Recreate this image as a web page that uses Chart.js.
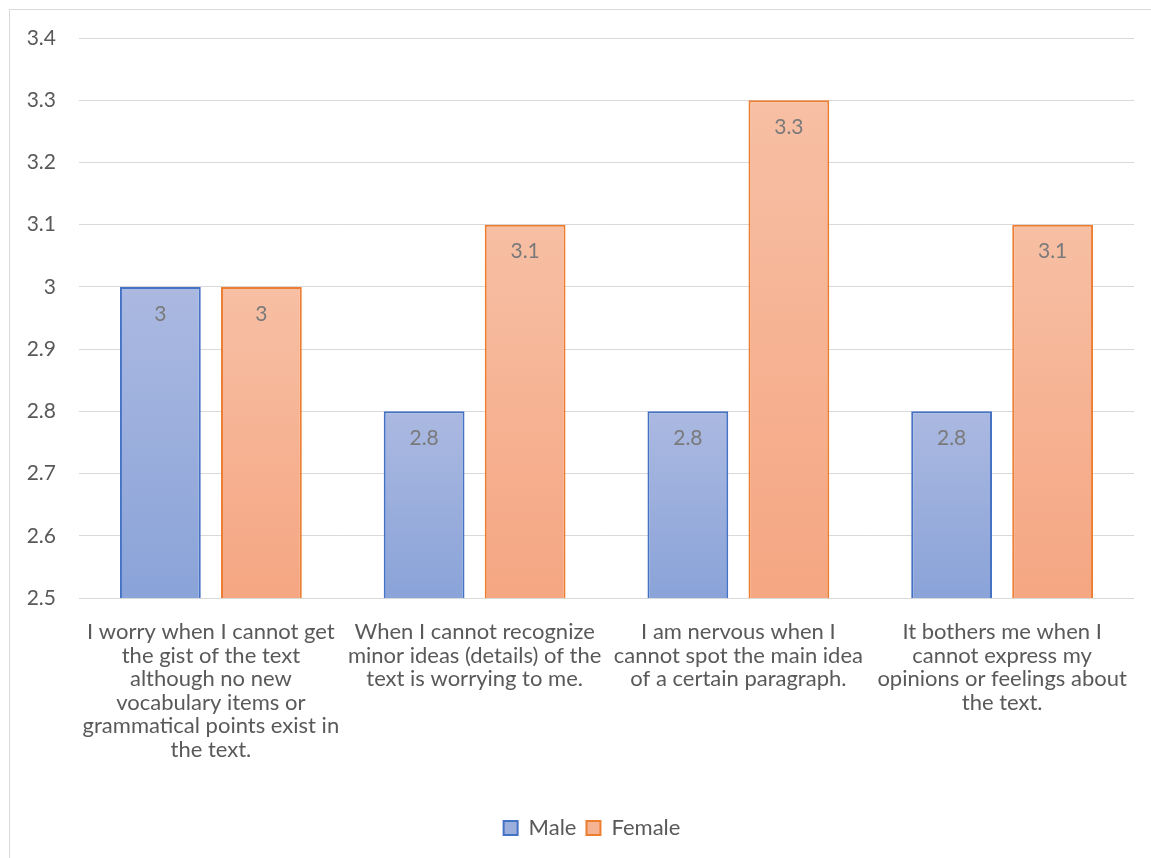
<!DOCTYPE html>
<html>
<head>
<meta charset="utf-8">
<script src="https://cdn.jsdelivr.net/npm/chart.js@4.4.1/dist/chart.umd.min.js"></script>
<style>
  html, body { margin: 0; padding: 0; background: #fff; overflow: hidden; }
  #frame { position: absolute; left: 9px; top: 9px; width: 1200px; height: 900px;
           border-left: 1px solid #d9d9d9; border-top: 1px solid #d9d9d9; }
  #wrap { position: absolute; left: 0; top: 0; width: 1151px; height: 858px; }
</style>
</head>
<body>
<div id="frame"></div>
<div id="wrap"><canvas id="c" width="1151" height="858"></canvas></div>
<script>
const categories = [
  ["I worry when I cannot get", "the gist of the text", "although no new", "vocabulary items or", "grammatical points exist in", "the text."],
  ["When I cannot recognize", "minor ideas (details) of the", "text is worrying to me."],
  ["I am nervous when I", "cannot spot the main idea", "of a certain paragraph."],
  ["It bothers me when I", "cannot express my", "opinions or feelings about", "the text."]
];
const maleValues = [3.0, 2.8, 2.8, 2.8];
const femaleValues = [3.0, 3.1, 3.3, 3.1];
const seriesNames = ["Male", "Female"];

const FONT = "Lato, 'Open Sans', sans-serif";
const GREY = "#595959";

// vertical gradient for each bar, from its top down to the axis
function barGradient(top, bottom) {
  return (ctx) => {
    const chart = ctx.chart;
    const area = chart.chartArea;
    if (!area || ctx.type !== 'data') return top;
    const yTop = chart.scales.y.getPixelForValue(ctx.raw);
    const g = chart.ctx.createLinearGradient(0, yTop, 0, area.bottom);
    g.addColorStop(0, top);
    g.addColorStop(1, bottom);
    return g;
  };
}

// value labels drawn just inside the top of each bar
const insideLabels = {
  id: 'insideLabels',
  afterDatasetsDraw(chart) {
    const ctx = chart.ctx;
    ctx.save();
    ctx.font = "21px " + FONT;
    ctx.fillStyle = "#7a7a7a";
    ctx.textAlign = "center";
    ctx.textBaseline = "middle";
    chart.data.datasets.forEach((ds, i) => {
      chart.getDatasetMeta(i).data.forEach((bar, j) => {
        ctx.fillText(String(ds.data[j]), bar.x, bar.y + 27);
      });
    });
    ctx.restore();
  }
};

// centre the legend row under the whole framed chart rather than the canvas
const legendShift = {
  id: 'legendShift',
  afterLayout(chart) {
    if (chart.legend) {
      chart.legend.left += 25;
      chart.legend.right += 25;
    }
  }
};

new Chart(document.getElementById('c'), {
  type: 'bar',
  data: {
    labels: categories,
    datasets: [
      {
        label: seriesNames[0],
        data: maleValues,
        backgroundColor: barGradient('#abb9e1', '#8aa3d8'),
        borderColor: '#4472c4',
        borderWidth: 2,
        categoryPercentage: 0.766,
        barPercentage: 0.8
      },
      {
        label: seriesNames[1],
        data: femaleValues,
        backgroundColor: barGradient('#f7bfa4', '#f5a682'),
        borderColor: '#ed7d31',
        borderWidth: 2,
        categoryPercentage: 0.766,
        barPercentage: 0.8
      }
    ]
  },
  options: {
    responsive: false,
    animation: false,
    layout: { padding: { top: 38, right: 17, bottom: 9, left: 0 } },
    plugins: {
      legend: {
        position: 'bottom',
        labels: {
          font: { family: FONT, size: 22 },
          color: GREY,
          boxWidth: 14,
          boxHeight: 14,
          padding: 10,
          generateLabels(chart) {
            const fills = ['#9caedc', '#f6b394'];
            return chart.data.datasets.map((ds, i) => ({
              text: ds.label,
              fillStyle: fills[i],
              strokeStyle: ds.borderColor,
              lineWidth: 2,
              fontColor: GREY,
              datasetIndex: i,
              hidden: false
            }));
          }
        }
      },
      tooltip: { enabled: false }
    },
    scales: {
      x: {
        grid: { display: false, drawTicks: false },
        border: { display: false },
        ticks: {
          font: { family: FONT, size: 22, lineHeight: 1.073 },
          color: GREY,
          padding: 22,
          maxRotation: 0,
          autoSkip: false
        },
        afterFit(s) { s.height = 209; }
      },
      y: {
        min: 2.5,
        max: 3.4,
        grid: { color: '#d9d9d9', lineWidth: 1, drawTicks: false },
        border: { display: false },
        ticks: {
          stepSize: 0.1,
          font: { family: FONT, size: 21 },
          color: GREY,
          padding: 23,
          callback: (v) => String(Number(v.toFixed(1)))
        },
        afterFit(s) { s.width = 79; }
      }
    }
  },
  plugins: [insideLabels, legendShift]
});
</script>
</body>
</html>
